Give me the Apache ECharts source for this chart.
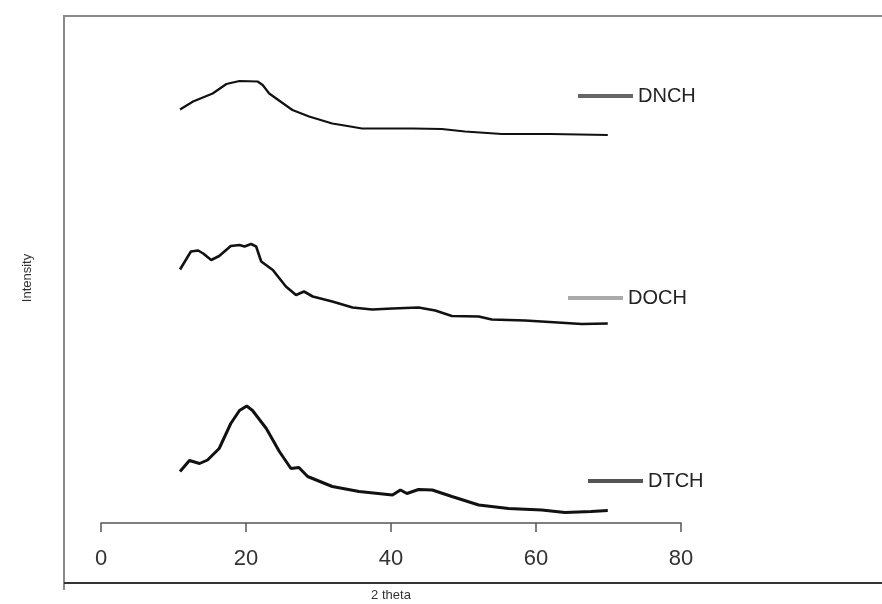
<!DOCTYPE html>
<html>
<head>
<meta charset="utf-8">
<title>XRD</title>
<script src="https://cdn.jsdelivr.net/npm/echarts@6/dist/echarts.min.js"></script>
<style>
  html, body { margin: 0; padding: 0; background: #fff; }
  #main { width: 882px; height: 604px; }
</style>
</head>
<body>
<div id="main"></div>
<script>
"use strict";

// x 轴刻度
let xTicks = [0, 20, 40, 60, 80];

// DNCH（最上面的曲线）
let dnchTheta = [10.9, 12.7, 15.4, 17.3, 19.1, 21.6, 22.3, 23.2, 26.4, 28.7, 31.9, 34.0, 36.0, 43.0, 47.0, 50.2, 55.3, 62.0, 69.9];
let dnchIntensity = [82.7, 84.3, 85.9, 87.8, 88.4, 88.3, 87.6, 85.9, 82.6, 81.3, 79.9, 79.4, 78.9, 78.9, 78.8, 78.3, 77.8, 77.8, 77.6];

// DOCH（中间）
let dochTheta = [10.9, 12.4, 13.4, 14.1, 15.2, 16.3, 17.9, 19.1, 19.8, 20.7, 21.4, 22.1, 23.7, 25.5, 26.9, 28.0, 29.2, 31.9, 34.7, 37.4, 40.2, 43.8, 46.1, 48.4, 52.1, 53.9, 58.5, 63.0, 66.3, 69.9];
let dochIntensity = [50.7, 54.3, 54.5, 53.9, 52.6, 53.4, 55.4, 55.6, 55.3, 55.8, 55.3, 52.3, 50.6, 47.3, 45.6, 46.3, 45.3, 44.3, 43.1, 42.7, 42.9, 43.1, 42.5, 41.4, 41.3, 40.7, 40.5, 40.1, 39.8, 39.9];

// DTCH（最下面）
let dtchTheta = [10.9, 12.2, 13.6, 14.7, 16.3, 17.9, 19.1, 20.1, 20.9, 22.8, 24.6, 26.2, 27.3, 28.5, 31.9, 35.6, 40.2, 41.3, 42.2, 43.8, 45.7, 48.4, 52.1, 56.2, 60.8, 64.0, 67.6, 69.9];
let dtchIntensity = [10.3, 12.5, 11.9, 12.6, 14.9, 19.9, 22.5, 23.4, 22.5, 18.9, 14.3, 10.9, 11.1, 9.3, 7.3, 6.3, 5.6, 6.6, 5.9, 6.7, 6.6, 5.3, 3.6, 2.9, 2.6, 2.1, 2.3, 2.5];

function pairs(xs, ys) {
  return xs.map(function (x, i) {
    return [x, ys[i]];
  });
}

let myChart = echarts.init(document.getElementById('main'));

// 每个图例单独放在曲线右侧
function makeLegend(name, color, left, top) {
  return {
    left: left,
    top: top,
    padding: 0,
    selectedMode: false,
    icon: 'rect',
    itemWidth: 55,
    itemHeight: 4,
    textStyle: {
      fontFamily: 'Liberation Sans, Arial, sans-serif',
      fontSize: 20,
      color: '#222',
    },
    data: [{ name: name, itemStyle: { color: color } }],
  };
}

function makeSeries(name, data, width) {
  return {
    name: name,
    type: 'line',
    showSymbol: false,
    symbol: 'none',
    animation: false,
    data: data,
    lineStyle: {
      color: '#111',
      width: width,
    },
    itemStyle: {
      color: '#111',
    },
  };
}

let option = {
  animation: false,
  grid: {
    left: 101,
    right: 201,
    top: 33,
    bottom: 81,
    containLabel: false,
    outerBoundsMode: 'none',
  },
  graphic: [
    { // 外框：上、左
      type: 'polyline',
      shape: { points: [[64, 590], [64, 16], [882, 16]] },
      style: { stroke: '#8a8a8a', lineWidth: 2, fill: null },
    },
    { // 外框：下
      type: 'line',
      shape: { x1: 64, y1: 583, x2: 882, y2: 583 },
      style: { stroke: '#333', lineWidth: 2 },
    },
  ],
  legend: [
    makeLegend('DNCH', '#666', 578, 86),
    makeLegend('DOCH', '#aaa', 568, 288),
    makeLegend('DTCH', '#555', 588, 471),
  ],
  xAxis: {
    type: 'value',
    min: 0,
    max: 80,
    interval: 20,
    name: '2 theta',
    nameLocation: 'middle',
    nameGap: 66,
    nameTextStyle: {
      fontFamily: 'Liberation Sans, Arial, sans-serif',
      fontSize: 13,
      color: '#333',
    },
    axisLine: {
      show: true,
      lineStyle: { color: '#555', width: 1.5 },
    },
    axisTick: {
      show: true,
      length: 9,
      lineStyle: { color: '#555', width: 1.5 },
    },
    axisLabel: {
      margin: 25,
      fontFamily: 'Liberation Sans, Arial, sans-serif',
      fontSize: 22,
      color: '#333',
      customValues: xTicks,
    },
    splitLine: { show: false },
  },
  yAxis: {
    type: 'value',
    min: 0,
    max: 98,
    name: 'Intensity',
    nameLocation: 'middle',
    nameGap: 67,
    nameRotate: 90,
    nameTextStyle: {
      fontFamily: 'Liberation Sans, Arial, sans-serif',
      fontSize: 13,
      color: '#333',
    },
    axisLine: { show: false },
    axisTick: { show: false },
    axisLabel: { show: false },
    splitLine: { show: false },
  },
  series: [
    makeSeries('DNCH', pairs(dnchTheta, dnchIntensity), 2.2),
    makeSeries('DOCH', pairs(dochTheta, dochIntensity), 2.6),
    makeSeries('DTCH', pairs(dtchTheta, dtchIntensity), 3),
  ],
};

myChart.setOption(option);
</script>
</body>
</html>
